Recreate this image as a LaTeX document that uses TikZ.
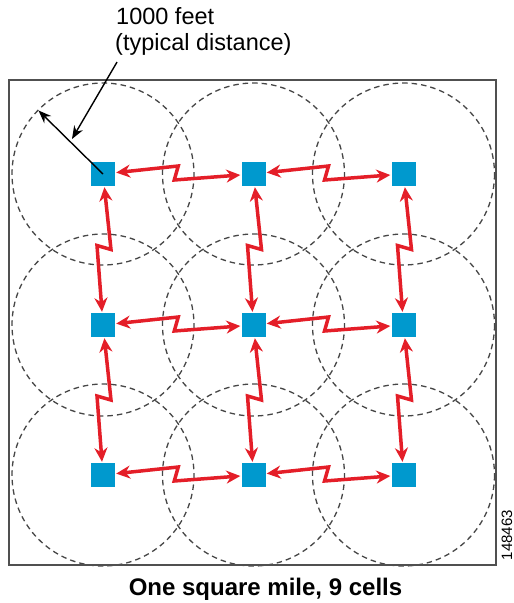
\documentclass[tikz,border=0pt]{standalone}
\usepackage{fontspec}
\setmainfont{Liberation Sans}
\usetikzlibrary{calc,arrows.meta,backgrounds}
\definecolor{nodeblue}{RGB}{0,153,206}
\definecolor{linkred}{RGB}{228,30,40}
\definecolor{framegray}{RGB}{80,80,80}
\definecolor{circgray}{RGB}{70,70,70}
\begin{document}
\begin{tikzpicture}[x=1pt,y=-1pt,
  ap/.style={rectangle, fill=nodeblue, minimum size=24pt, inner sep=0pt},
  cell/.style={draw=circgray, line width=1.3pt, dash pattern=on 5.5pt off 4pt},
  link/.style={draw=linkred, line width=3.5pt, line join=miter,
    {Stealth[length=14pt,width=13pt]}-{Stealth[length=14pt,width=13pt]},
    shorten <=1pt, shorten >=1pt,
    to path={
      -- ($($(\tikztostart)!0.5!(\tikztotarget)$)!8pt!90:(\tikztotarget)$)
      -- ($($($(\tikztostart)!0.5!(\tikztotarget)$)!-4pt!(\tikztotarget)$)!6pt!-90:(\tikztotarget)$)
      -- (\tikztotarget)}},
  blk/.style={draw=black, line width=1.4pt, -{Stealth[length=13pt,width=10pt]}},
  lbl/.style={anchor=base west, inner sep=0pt, font=\fontsize{23.5}{26}\selectfont}
]
\useasboundingbox (0,0) rectangle (514,603);

% access points
\node[ap] (n11) at (103,174) {};
\node[ap] (n12) at (253.5,174) {};
\node[ap] (n13) at (403.5,174) {};
\node[ap] (n21) at (103,325) {};
\node[ap] (n22) at (253.5,325) {};
\node[ap] (n23) at (403.5,325) {};
\node[ap] (n31) at (103,475) {};
\node[ap] (n32) at (253.5,475) {};
\node[ap] (n33) at (403.5,475) {};

\begin{pgfonlayer}{background}
  \foreach \n in {n11,n12,n13,n21,n22,n23,n31,n32,n33}
    \draw[cell] (\n.center) circle[radius=91];
  \draw[draw=framegray, line width=2pt] (9,80) rectangle (496,565);
\end{pgfonlayer}

% mesh links
\draw[link] (n11) to (n12);
\draw[link] (n12) to (n13);
\draw[link] (n21) to (n22);
\draw[link] (n22) to (n23);
\draw[link] (n31) to (n32);
\draw[link] (n32) to (n33);
\draw[link] (n11) to (n21);
\draw[link] (n21) to (n31);
\draw[link] (n12) to (n22);
\draw[link] (n22) to (n32);
\draw[link] (n13) to (n23);
\draw[link] (n23) to (n33);

% distance annotation
\node[lbl] (t1) at (116,24) {1000 feet};
\node[lbl] (t2) at (115,50) {(typical distance)};
\coordinate (rim) at (38.5,110.5);
\coordinate (pt) at (72,139);
\draw[blk] (n11.center) -- (rim);
\draw[blk] ([shift={(2,7)}]t2.south west) -- (pt);

% caption and id
\node[anchor=base, inner sep=0pt, font=\bfseries\fontsize{24}{28}\selectfont] (cap) at (265.5,595) {One square mile, 9 cells};
\node[rotate=90, inner sep=0pt, font=\fontsize{15}{18}\selectfont] (id) at (507,535) {148463};
\end{tikzpicture}
\end{document}
